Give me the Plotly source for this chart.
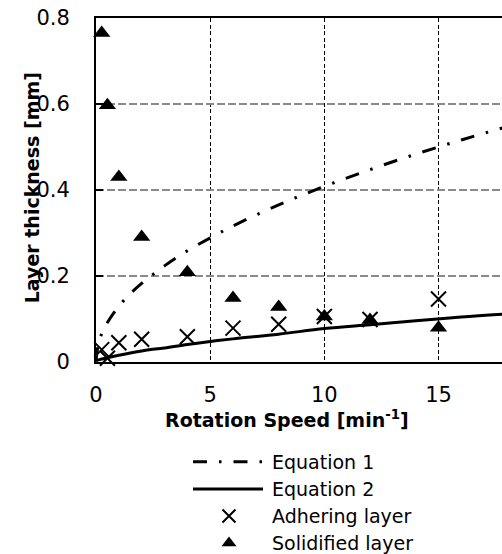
import plotly.graph_objects as go

# ---- data ----
speed_pts = [0.25, 0.5, 1, 2, 4, 6, 8, 10, 12, 15]
adhering = [0.028, 0.008, 0.044, 0.052, 0.058, 0.078, 0.087, 0.105, 0.098, 0.146]
solidified = [0.765, 0.597, 0.43, 0.29, 0.208, 0.148, 0.127, 0.105, 0.097, 0.079]

eq1_x = [0, 0.1, 0.25, 0.5, 1, 1.5, 2, 3, 4, 5, 6, 8, 10, 12, 14, 16, 18]
eq1_y = [0, 0.04, 0.065, 0.091, 0.129, 0.158, 0.182, 0.223, 0.258, 0.288, 0.316,
         0.365, 0.408, 0.447, 0.483, 0.516, 0.547]

eq2_x = [0, 0.25, 0.5, 1, 2, 3, 4, 5, 6, 8, 10, 12, 14, 16, 18]
eq2_y = [0.002, 0.006, 0.009, 0.015, 0.025, 0.032, 0.040, 0.047, 0.053, 0.064,
         0.077, 0.086, 0.095, 0.104, 0.111]

x_ticks = [0, 5, 10, 15]
y_ticks = [0, 0.2, 0.4, 0.6, 0.8]
y_ticktext = ["0", "0.2", "0.4", "0.6", "0.8"]

series_names = ["Equation 1", "Equation 2", "Adhering layer", "Solidified layer"]
x_title = "<b>Rotation Speed [min<sup>-1</sup>]</b>"
y_title = "<b>Layer thickness [mm]</b>"

FONT = "DejaVu Sans"
EQ1_DASH = "14px,12px,2.5px,12px"

H = 567
S = H / 554.0

fig = go.Figure()

fig.add_trace(go.Scatter(x=eq1_x, y=eq1_y, mode="lines", line=dict(color="black", width=3, dash=EQ1_DASH, shape="spline"),
                         showlegend=False, cliponaxis=True))
fig.add_trace(go.Scatter(x=eq2_x, y=eq2_y, mode="lines", line=dict(color="black", width=3, shape="spline"),
                         showlegend=False))
fig.add_trace(go.Scatter(x=speed_pts, y=adhering, mode="markers",
                         marker=dict(symbol="x-thin", size=15, line=dict(color="black", width=2)),
                         showlegend=False, cliponaxis=False))
fig.add_trace(go.Scatter(x=speed_pts, y=solidified, mode="markers",
                         marker=dict(symbol="triangle-up", size=15, color="black"),
                         showlegend=False, cliponaxis=False))

# ---- custom legend drawn in a hidden helper axis (pixel-like units) ----
leg_rows = [461, 488, 515, 542]
fig.add_trace(go.Scatter(x=[193, 263], y=[leg_rows[0]] * 2, xaxis="x2", yaxis="y2", mode="lines",
                         line=dict(color="black", width=3, dash=EQ1_DASH), showlegend=False, hoverinfo="skip"))
fig.add_trace(go.Scatter(x=[193, 263], y=[leg_rows[1]] * 2, xaxis="x2", yaxis="y2", mode="lines",
                         line=dict(color="black", width=3), showlegend=False, hoverinfo="skip"))
fig.add_trace(go.Scatter(x=[229], y=[leg_rows[2]], xaxis="x2", yaxis="y2", mode="markers",
                         marker=dict(symbol="x-thin", size=13, line=dict(color="black", width=2)),
                         showlegend=False, hoverinfo="skip"))
fig.add_trace(go.Scatter(x=[229], y=[leg_rows[3]], xaxis="x2", yaxis="y2", mode="markers",
                         marker=dict(symbol="triangle-up", size=13, color="black"),
                         showlegend=False, hoverinfo="skip"))

annotations = []
for name, yy in zip(series_names, leg_rows):
    annotations.append(dict(x=270, y=yy, xref="x2", yref="y2", text=name, showarrow=False,
                            xanchor="left", yanchor="middle", font=dict(family=FONT, size=19, color="black")))
annotations.append(dict(x=287, y=418, xref="x2", yref="y2", text=x_title, showarrow=False,
                        xanchor="center", yanchor="middle", font=dict(family=FONT, size=19, color="black")))
annotations.append(dict(x=(32 - 96) / 406, y=(554 - 188) / 536, xref="paper", yref="paper", text=y_title,
                        showarrow=False, textangle=-90, xanchor="center", yanchor="middle",
                        font=dict(family=FONT, size=19, color="black")))

y_dom0 = (554 - 361) / 536

fig.update_layout(
    width=502, height=H, autosize=False,
    margin=dict(l=96, r=0, t=18 * S, b=0),
    paper_bgcolor="white", plot_bgcolor="white",
    font=dict(family=FONT, size=21, color="black"),
    showlegend=False,
    xaxis=dict(domain=[0, 1], range=[0, 17.78], tickvals=x_ticks, showgrid=True, gridcolor="black",
               griddash="4px,2.5px", gridwidth=1.3, zeroline=False, showline=True, linecolor="black",
               linewidth=2, mirror=True, ticks="", ticklabelstandoff=13, anchor="y",
               tickfont=dict(family=FONT, size=21)),
    yaxis=dict(domain=[y_dom0, 1], range=[0, 0.8], tickvals=y_ticks, ticktext=y_ticktext, showgrid=True,
               gridcolor="#8a8a8a", griddash="8px,3px", gridwidth=1.5, zeroline=False, showline=True,
               linecolor="black", linewidth=2, ticks="inside", ticklen=7, tickwidth=1.5, tickcolor="black",
               ticklabelstandoff=20, anchor="x", tickfont=dict(family=FONT, size=21)),
    xaxis2=dict(domain=[0, 1], range=[96, 502], visible=False, anchor="y2", fixedrange=True),
    yaxis2=dict(domain=[0, y_dom0], range=[554, 361], visible=False, anchor="x2", fixedrange=True),
    annotations=annotations,
)

fig.write_html("out.html",
               config={"responsive": False, "displayModeBar": False},
               post_script="document.body.style.margin='0px';document.body.style.overflow='hidden';")
